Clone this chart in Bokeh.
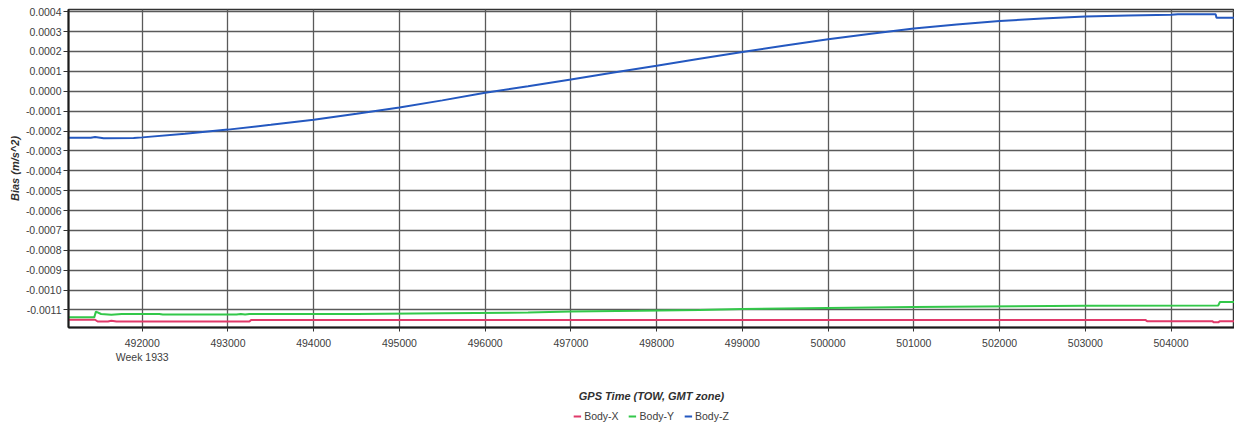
from bokeh.plotting import figure
from bokeh.layouts import column
from bokeh.models import Range1d, FixedTicker, NumeralTickFormatter, Legend, LegendItem
from bokeh.embed import file_html
from bokeh.resources import INLINE

# ---- data ----
tow_x = [491140, 491450, 491480, 491600, 491640, 491700, 493250, 493270,
         503700, 503720, 504480, 504500, 504550, 504570, 504740]
bias_x = [-0.001149, -0.001149, -0.001158, -0.001158, -0.001154, -0.001158, -0.001158, -0.00115,
          -0.00115, -0.001156, -0.001156, -0.001162, -0.001162, -0.001156, -0.001156]

tow_y = [491140, 491440, 491460, 491520, 491640, 491760, 492200, 492240,
         493100, 493150, 493200, 493250, 494500, 495500, 496500, 497000,
         497800, 498500, 499000, 500000, 501000, 501800, 503000, 504550,
         504570, 504740]
bias_y = [-0.001137, -0.001137, -0.001108, -0.00112, -0.001124, -0.00112, -0.00112, -0.001123,
          -0.001123, -0.00112, -0.001123, -0.00112, -0.00112, -0.001116, -0.001113, -0.001108,
          -0.001104, -0.0011, -0.001095, -0.00109, -0.001085, -0.001082, -0.001079, -0.001077,
          -0.00106, -0.00106]

tow_z = [491140, 491400, 491450, 491550, 491900, 492000, 492500, 493000, 493500,
         494000, 494500, 495000, 495500, 496000, 496500, 497000, 497500, 498000,
         498500, 499000, 499500, 500000, 500500, 501000, 501500, 502000, 502500,
         503000, 503500, 504000, 504080, 504520, 504530, 504740]
bias_z = [-0.000234, -0.000234, -0.00023, -0.000236, -0.000235, -0.000232, -0.000214, -0.000193, -0.000169,
          -0.000143, -0.000113, -0.000082, -0.000046, -0.000008, 0.000025, 0.000059, 0.000094, 0.000128,
          0.000163, 0.000197, 0.00023, 0.000261, 0.000289, 0.000315, 0.000336, 0.000353, 0.000366,
          0.000376, 0.000381, 0.000385, 0.000387, 0.000387, 0.00037, 0.00037]

x_ticks = [492000, 493000, 494000, 495000, 496000, 497000, 498000,
           499000, 500000, 501000, 502000, 503000, 504000]
y_ticks = [-0.0011, -0.0010, -0.0009, -0.0008, -0.0007, -0.0006, -0.0005, -0.0004,
           -0.0003, -0.0002, -0.0001, 0.0, 0.0001, 0.0002, 0.0003, 0.0004]
week_label = "Week 1933"

series_names = ["Body-X", "Body-Y", "Body-Z"]
series_colors = ["#e03a6a", "#33c84a", "#2458c0"]
series_tow = [tow_x, tow_y, tow_z]
series_bias = [bias_x, bias_y, bias_z]

FONT = "Liberation Sans"

p = figure(width=1234, height=404, output_backend="svg", toolbar_location=None,
           x_range=Range1d(491140, 504740), y_range=Range1d(-0.001188, 0.000411),
           min_border_left=68, min_border_right=0, min_border_top=9, min_border_bottom=72,
           outline_line_color="#333333", outline_line_width=1.5,
           background_fill_color="white", border_fill_color="white")

for t, b, c in zip(series_tow, series_bias, series_colors):
    p.line(t, b, line_color=c, line_width=2)

# axes
p.xaxis.ticker = FixedTicker(ticks=x_ticks)
p.xaxis.formatter = NumeralTickFormatter(format="0")
p.xaxis.major_label_overrides = {x_ticks[0]: f"{x_ticks[0]}\n{week_label}"}
p.yaxis.ticker = FixedTicker(ticks=y_ticks)
p.yaxis.formatter = NumeralTickFormatter(format="0.0000")

for ax in (p.xaxis, p.yaxis):
    ax.axis_line_color = "#1a1a1a"
    ax.axis_line_width = 2
    ax.major_tick_line_color = "#333333"
    ax.major_tick_in = 0
    ax.minor_tick_line_color = None
    ax.major_label_text_font = FONT
    ax.major_label_text_font_size = "10.5px"
    ax.major_label_text_color = "#404040"
    ax.axis_label_text_font = FONT
    ax.axis_label_text_font_size = "11px"
    ax.axis_label_text_font_style = "bold italic"
    ax.axis_label_text_color = "#303030"

p.xaxis.major_tick_out = 4
p.xaxis.major_label_standoff = 5
p.xaxis.axis_label = "GPS Time (TOW, GMT zone)"
p.xaxis.axis_label_standoff = 24
p.yaxis.major_tick_out = 5
p.yaxis.major_label_standoff = 2
p.yaxis.axis_label = "Bias (m/s^2)"
p.yaxis.axis_label_standoff = 2

p.xgrid.ticker = FixedTicker(ticks=x_ticks)
p.ygrid.ticker = FixedTicker(ticks=y_ticks)
for g in (p.xgrid, p.ygrid):
    g.grid_line_color = "#5a5a5a"
    g.grid_line_width = 1.3

# legend strip below the chart (its lines lie outside its own range, only the legend shows)
lg = figure(width=1234, height=23, output_backend="svg", toolbar_location=None,
            x_range=Range1d(491140, 504740), y_range=Range1d(1, 2),
            x_axis_type=None, y_axis_type=None,
            min_border_left=68, min_border_right=0, min_border_top=0, min_border_bottom=0,
            outline_line_color=None, background_fill_color="white", border_fill_color="white")
items = []
for t, b, c, n in zip(series_tow, series_bias, series_colors, series_names):
    r = lg.line(t, b, line_color=c, line_width=2)
    items.append(LegendItem(label=n, renderers=[r]))

legend = Legend(items=items, orientation="horizontal", location="center",
                label_text_font=FONT, label_text_font_size="10.5px", label_text_color="#404040",
                glyph_width=8, glyph_height=12, label_standoff=3, spacing=10,
                padding=2, margin=0, border_line_color=None, background_fill_alpha=0)
lg.add_layout(legend, "center")

layout = column(p, lg, spacing=0)
open("out.html", "w").write(file_html(layout, INLINE))
